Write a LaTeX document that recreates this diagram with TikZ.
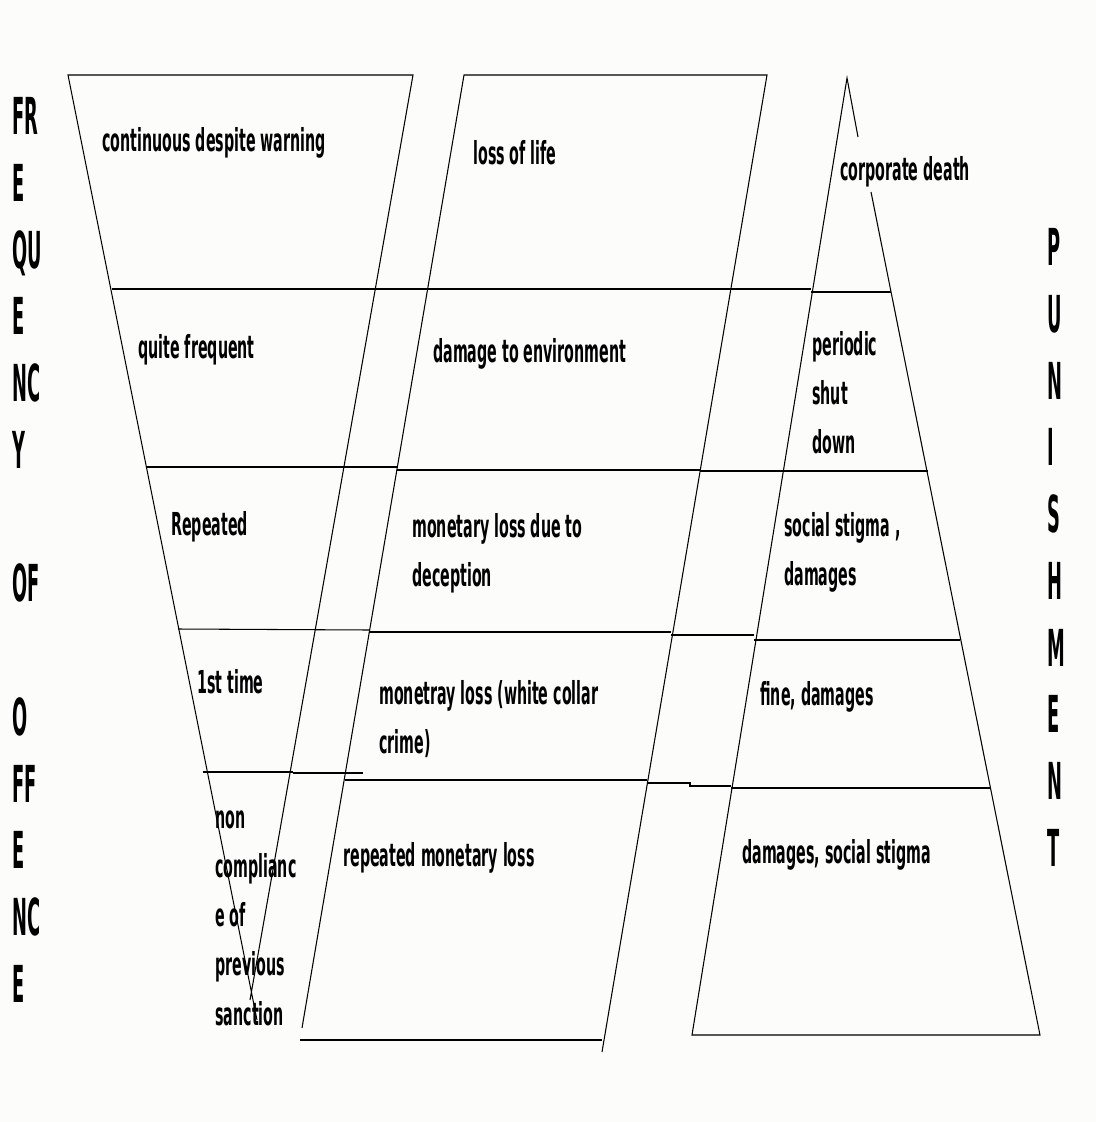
\documentclass[tikz,border=0pt]{standalone}
\usepackage{fontspec}
\usepackage{tikz}
\newfontfamily\boxfont[FakeStretch=0.45]{DejaVu Sans}
\newfontfamily\sidefont[FakeStretch=0.35]{DejaVu Sans}
\definecolor{paper}{RGB}{252,252,250}
\tikzset{
  thinline/.style={line width=0.6pt},
  thickline/.style={line width=1.5pt},
  lbl/.style={anchor=west,inner sep=0pt,align=left,font=\boxfont\bfseries\fontsize{18}{28}\selectfont},
  sidelbl/.style={anchor=north west,inner sep=0pt,align=left,font=\sidefont\bfseries\fontsize{29}{38}\selectfont}
}

\begin{document}
\begin{tikzpicture}[x=0.02cm,y=-0.02cm]
    \fill[paper] (0,0) rectangle (1096,1122);
    \draw[thinline] (257,1020)--(68,75)--(413,75)--(250,1000);
    \draw[thinline] (302,1028)--(464,75)--(767,75)--(602,1052);
    \draw[thickline] (300,1040)--(602,1040);
    \draw[thinline] (858,137)--(847,78)--(692,1035)--(1040,1035)--(871,192);
    \draw[thinline] (112,289)--(811,289);
    \draw[thickline] (811,292)--(891,292);
    \draw[thinline] (147,467)--(397,467);
    \draw[thickline] (397,470)--(700,470);
    \draw[thinline] (700,471)--(780,471);
    \draw[thickline] (780,471)--(928,471);
    \draw[thinline] (178,629)--(369,630);
    \draw[thickline] (369,632)--(671,632);
    \draw[thinline] (671,635)--(754,635);
    \draw[thickline] (754,640)--(960,640);
    \draw[thickline] (203,772)--(293,772);
    \draw[thinline] (293,773)--(363,773);
    \draw[thickline] (345,780)--(647,780);
    \draw[thinline] (647,783)--(690,783)--(690,786)--(731,786);
    \draw[thickline] (731,788)--(990,788);
    \node[sidelbl] (freq) at (12,97) {FR\\E\\QU\\E\\NC\\Y\\ \\OF\\ \\O\\FF\\E\\NC\\E};
    \node[sidelbl] (pun) at (1047,228) {P\\U\\N\\I\\S\\H\\M\\E\\N\\T};
    \node[lbl] (cont) at (102,143) {continuous despite warning};
    \node[lbl] (quite) at (138,350) {quite frequent};
    \node[lbl] (rep) at (171,527) {Repeated};
    \node[lbl] (first) at (197,682) {1st time};
    \node[lbl] (noncomp) at (215,918) {non\\complianc\\e of\\previous\\sanction};
    \node[lbl] (life) at (473,153) {loss of life};
    \node[lbl] (env) at (433,354) {damage to environment};
    \node[lbl] (decep) at (412,553) {monetary loss due to\\deception};
    \node[lbl] (collar) at (379,719) {monetray loss (white collar\\crime)};
    \node[lbl] (repml) at (343,858) {repeated monetary loss};
    \node[lbl] (death) at (840,172) {corporate death};
    \node[lbl] (shut) at (812,393) {periodic\\shut\\down};
    \node[lbl] (stigma) at (784,552) {social stigma ,\\damages};
    \node[lbl] (fine) at (760,697) {fine, damages};
    \node[lbl] (dss) at (742,855) {damages, social stigma};
\end{tikzpicture}
\end{document}
